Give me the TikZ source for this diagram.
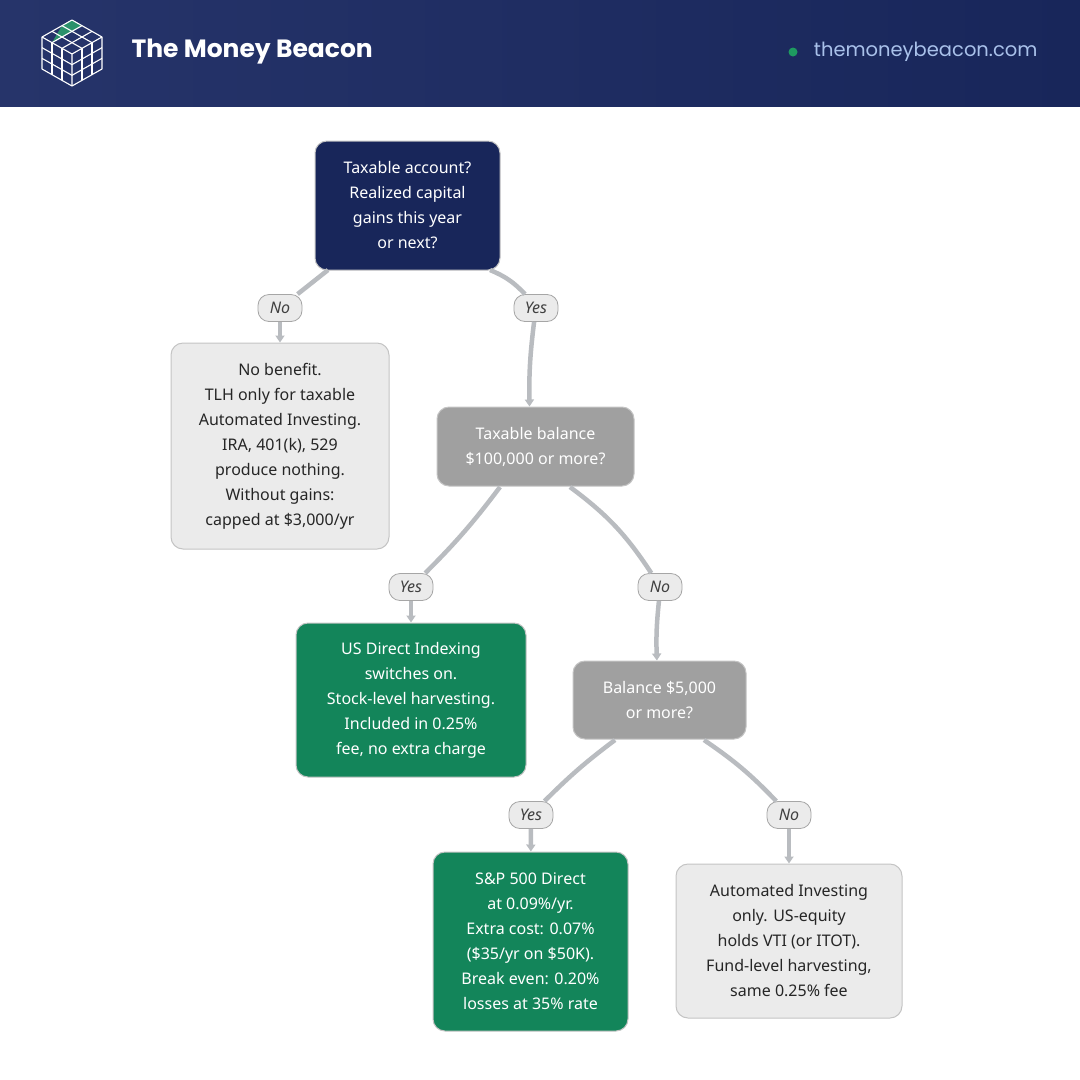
\documentclass[tikz,border=0pt]{standalone}
\usepackage{fontspec}
\setmainfont{Noto Sans}
\newfontfamily\headfont{Poppins}
\usetikzlibrary{calc,arrows.meta}
\definecolor{navy}{HTML}{18265A}
\definecolor{navyL}{HTML}{26346A}
\definecolor{qgray}{HTML}{A0A0A0}
\definecolor{lgray}{HTML}{EBEBEB}
\definecolor{lborder}{HTML}{C4C4C4}
\definecolor{tgreen}{HTML}{13855A}
\definecolor{egray}{HTML}{B9BCC0}
\definecolor{urlc}{HTML}{A9C1EA}
\definecolor{dotg}{HTML}{1E9A60}
\begin{document}
\begin{tikzpicture}[x=1pt,y=-1pt,
  box/.style={rounded corners=12pt,align=center,inner sep=0pt,font=\fontsize{16}{25}\selectfont},
  dark/.style={box,fill=navy,draw=lborder,line width=1pt,text=white},
  grayq/.style={box,fill=qgray,draw=lborder,line width=1pt,text=white},
  light/.style={box,fill=lgray,draw=lborder,line width=1pt,text=black!85},
  green/.style={box,fill=tgreen,draw=lborder,line width=1pt,text=white},
  lab/.style={fill=lgray,draw=black!35,line width=0.8pt,rounded corners=11pt,minimum width=44pt,minimum height=27pt,inner sep=3pt,font=\fontsize{16}{18}\selectfont\itshape,text=black!75},
  edge/.style={draw=egray,line width=4.5pt},
  arr/.style={edge,-{Triangle[length=7pt,width=9pt]}}]
\useasboundingbox (0,0) rectangle (1080,1080);
\fill[white] (0,0) rectangle (1080,1080);
\shade[left color=navyL,right color=navy] (0,0) rectangle (1080,106);
% logo
\coordinate (T) at (72,20); \coordinate (L) at (42,37); \coordinate (R) at (102,37);
\coordinate (C) at (72,54); \coordinate (B) at (72,86); \coordinate (BL) at (42,69); \coordinate (BR) at (102,69);
\fill[tgreen!90!white] (T) -- ($(T)!1/3!(R)$) -- ($(T)!1/3!(R)+(L)-(T)$) coordinate (g) -- ($(T)!1/3!(L)$) -- cycle;
\begin{scope}[draw=white,line width=1.1pt,line join=round]
\draw (T)--(R)--(BR)--(B)--(BL)--(L)--cycle;
\draw (L)--(C)--(R) (C)--(B);
\foreach \i in {1,2}{
 \draw ($(T)!\i/3!(R)$)--($(L)!\i/3!(C)$);
 \draw ($(T)!\i/3!(L)$)--($(R)!\i/3!(C)$);
 \draw ($(L)!\i/3!(C)$)--($(BL)!\i/3!(B)$);
 \draw ($(L)!\i/3!(BL)$)--($(C)!\i/3!(B)$);
 \draw ($(C)!\i/3!(R)$)--($(B)!\i/3!(BR)$);
 \draw ($(C)!\i/3!(B)$)--($(R)!\i/3!(BR)$);
}
\end{scope}
\node[anchor=west,text=white,font=\headfont\fontsize{25}{28}\selectfont\bfseries] (title) at (128,52) {The Money Beacon};
\node[anchor=east,text=urlc,font=\headfont\fontsize{19.5}{22}\selectfont] (url) at (1041,52) {themoneybeacon.com};
\fill[dotg] (793,52) circle (4.5pt);
% nodes
\node[dark,minimum width=185pt,minimum height=129pt] (q1) at (407.5,205.5) {Taxable account?\\Realized capital\\gains this year\\or next?};
\node[light,minimum width=218pt,minimum height=206pt] (nb) at (280,446) {No benefit.\\TLH only for taxable\\Automated Investing.\\IRA, 401(k), 529\\produce nothing.\\Without gains:\\capped at \$3,000/yr};
\node[grayq,minimum width=197pt,minimum height=79pt] (q2) at (535.5,446.5) {Taxable balance\\\$100,000 or more?};
\node[green,minimum width=230pt,minimum height=154pt] (us) at (411,700) {US Direct Indexing\\switches on.\\Stock-level harvesting.\\Included in 0.25\%\\fee, no extra charge};
\node[grayq,minimum width=173pt,minimum height=78pt] (q3) at (659.5,700) {Balance \$5,000\\or more?};
\node[green,minimum width=195pt,minimum height=179pt] (sp) at (530.5,941.5) {S\&P 500 Direct\\at 0.09\%/yr.\\Extra cost: 0.07\%\\(\$35/yr on \$50K).\\Break even: 0.20\%\\losses at 35\% rate};
\node[light,minimum width=226pt,minimum height=154pt] (au) at (789,941) {Automated Investing\\only. US-equity\\holds VTI (or ITOT).\\Fund-level harvesting,\\same 0.25\% fee};
% labels
\node[lab] (l1) at (280,308) {No};
\node[lab] (l2) at (536,308) {Yes};
\node[lab] (l3) at (411,587) {Yes};
\node[lab] (l4) at (660,587) {No};
\node[lab] (l5) at (531,815) {Yes};
\node[lab] (l6) at (789,815) {No};
% edges
\coordinate (e1) at (328,270); \coordinate (e2) at (490,270);
\coordinate (e3) at (500,487); \coordinate (e4) at (570,487);
\coordinate (e5) at (615,740); \coordinate (e6) at (704,740);
\draw[edge] (e1) -- (l1);
\draw[arr] (l1) -- (nb);
\draw[edge] (e2) to[bend left=12] (l2);
\draw[arr] (l2) to[bend right=4] ([xshift=-6pt]q2.north);
\draw[edge] (e3) to[bend left=4] (l3);
\draw[arr] (l3) -- (us);
\draw[edge] (e4) to[bend left=10] (l4);
\draw[arr] (l4) to[bend right=4] (q3);
\draw[edge] (e5) to[bend right=4] (l5);
\draw[arr] (l5) -- (sp);
\draw[edge] (e6) to[bend left=6] (l6);
\draw[arr] (l6) -- (au);
\end{tikzpicture}
\end{document}
